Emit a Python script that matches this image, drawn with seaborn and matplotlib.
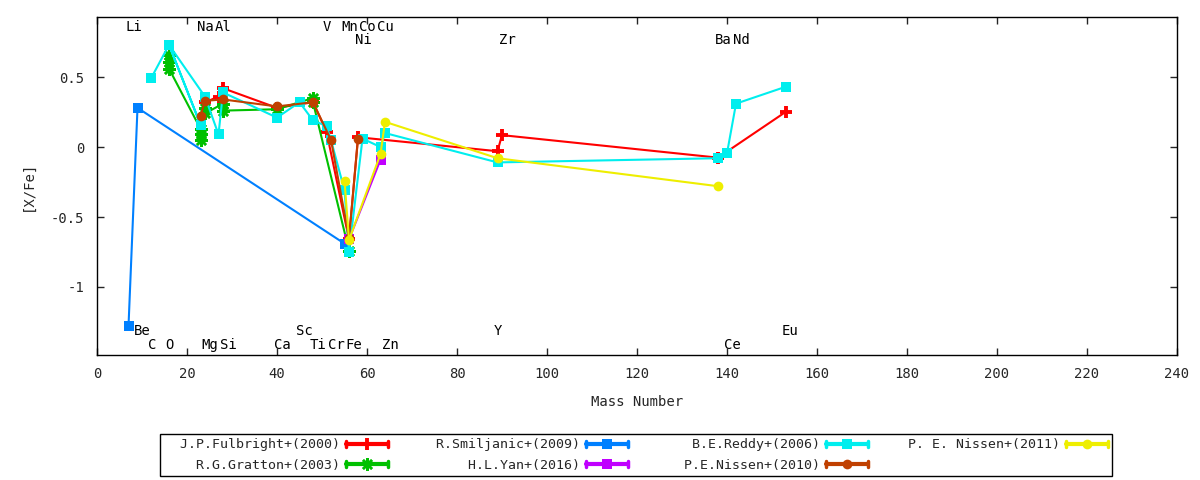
import numpy as np
import pandas as pd
import matplotlib
matplotlib.use("Agg")
import matplotlib.pyplot as plt
import seaborn as sns
from matplotlib.lines import Line2D
from matplotlib.legend_handler import HandlerBase

# ---- data ----
fulbright_mass = [24, 27, 28, 40, 48, 51, 56, 58, 89, 90, 138, 153]
fulbright_xfe = [0.32, 0.36, 0.42, 0.28, 0.32, 0.11, -0.66, 0.07, -0.03, 0.085, -0.076, 0.25]

gratton_mass = [16, 16, 16, 23, 23, 23, 24, 24, 28, 28, 40, 48, 48, 56]
gratton_xfe = [0.66, 0.61, 0.56, 0.13, 0.09, 0.05, 0.28, 0.24, 0.31, 0.26, 0.27, 0.35, 0.32, -0.74]

smiljanic_mass = [7, 9, 55]
smiljanic_xfe = [-1.28, 0.28, -0.69]

yan_mass = [56, 63]
yan_xfe = [-0.66, -0.09]

reddy_mass = [12, 16, 23, 16, 24, 27, 28, 40, 45, 48, 51, 52, 55, 56, 59, 63, 64, 89, 138, 140, 142, 153]
reddy_xfe = [0.49, 0.73, 0.16, 0.73, 0.36, 0.09, 0.39, 0.21, 0.32, 0.19, 0.15, 0.05, -0.31, -0.75,
             0.06, 0.0, 0.10, -0.11, -0.08, -0.045, 0.31, 0.43]

nissen10_mass = [23, 24, 28, 40, 48, 52, 56, 58]
nissen10_xfe = [0.22, 0.33, 0.34, 0.29, 0.32, 0.05, -0.65, 0.06]

nissen11_mass = [55, 56, 63, 64, 89, 138]
nissen11_xfe = [-0.24, -0.665, -0.05, 0.18, -0.08, -0.28]

# element labels: symbol, mass number, row (0/1 above the data, 2/3 below)
elem_names = ["Li", "Na", "Al", "V", "Mn", "Co", "Cu",
              "Ni", "Zr", "Ba", "Nd",
              "Be", "Sc", "Y", "Eu",
              "C", "O", "Mg", "Si", "Ca", "Ti", "Cr", "Fe", "Zn", "Ce"]
elem_mass = [7, 23, 27, 51, 55, 59, 63,
             58, 90, 138, 142,
             9, 45, 89, 153,
             12, 16, 24, 28, 40, 48, 52, 56, 64, 140]
elem_row = [0] * 7 + [1] * 4 + [2] * 4 + [3] * 10

series = [
    ("J.P.Fulbright+(2000)", fulbright_mass, fulbright_xfe, "#ff0000", "+"),
    ("R.G.Gratton+(2003)", gratton_mass, gratton_xfe, "#00c000", (8, 2, 0)),
    ("R.Smiljanic+(2009)", smiljanic_mass, smiljanic_xfe, "#0080ff", "s"),
    ("H.L.Yan+(2016)", yan_mass, yan_xfe, "#c000ff", "s"),
    ("B.E.Reddy+(2006)", reddy_mass, reddy_xfe, "#00eeee", "s"),
    ("P.E.Nissen+(2010)", nissen10_mass, nissen10_xfe, "#c04000", "o"),
    ("P. E. Nissen+(2011)", nissen11_mass, nissen11_xfe, "#eeee00", "o"),
]
row_y = [0.857, 0.765, -1.314, -1.414]
FS = 9.5


def marker_style(m):
    if m == "+":
        return dict(markersize=9, markeredgewidth=2.8)
    if m == (8, 2, 0):
        return dict(markersize=9, markeredgewidth=1.8)
    if m == "s":
        return dict(markersize=7.5, markeredgewidth=0)
    return dict(markersize=7, markeredgewidth=0)


class GnuKey(HandlerBase):
    # line with end caps and a marker in the middle, like a gnuplot errorbar key
    def create_artists(self, legend, orig_handle, xdescent, ydescent, width, height, fontsize, trans):
        y = height / 2 - ydescent
        x0, x1 = -xdescent, width - xdescent
        c = orig_handle.get_color()
        h = height * 0.3
        ln = Line2D([x0, x1], [y, y], color=c, lw=3)
        caps = Line2D([x0, x0, np.nan, x1, x1], [y - h, y + h, np.nan, y - h, y + h], color=c, lw=2.5)
        m = orig_handle.get_marker()
        mk = Line2D([(x0 + x1) / 2], [y], marker=m, color=c, lw=0, **marker_style(m))
        for a in (ln, caps, mk):
            a.set_transform(trans)
        return [ln, caps, mk]


sns.set_style("ticks")
plt.rcParams["font.family"] = ["DejaVu Sans Mono", "DejaVu Sans"]
plt.rcParams["axes.unicode_minus"] = False

fig = plt.figure(figsize=(12, 4.8), dpi=100)
ax = fig.add_axes([97 / 1200, 1 - 355 / 480, 1080 / 1200, 338 / 480])

handles = []
for label, mass, xfe, color, mk in series:
    df = pd.DataFrame({"mass": mass, "xfe": xfe})
    sns.lineplot(data=df, x="mass", y="xfe", ax=ax, sort=False, estimator=None,
                 color=color, linewidth=1.5, marker=mk, markeredgecolor=color,
                 **marker_style(mk))
    # gnuplot right-justifies key text, so pad to a common width (mono font)
    handles.append(Line2D([], [], color=color, marker=mk, label=label.rjust(22)))

for name, mass, row in zip(elem_names, elem_mass, elem_row):
    ax.annotate(name, (mass, row_y[row]), xytext=(-3.4, 0), textcoords="offset pixels",
                ha="left", va="center", fontsize=FS + 0.5, color="black")

ax.set_xlim(0, 240)
ax.set_ylim(-1.486, 0.929)
ax.set_xticks(np.arange(0, 241, 20))
ax.set_yticks([-1, -0.5, 0, 0.5])
ax.set_yticklabels(["-1", "-0.5", "0", "0.5"])
ax.tick_params(direction="in", top=True, right=True, length=5, width=1, labelsize=FS + 0.5, pad=9)
for sp in ax.spines.values():
    sp.set_linewidth(1)
    sp.set_color("black")
ax.set_xlabel("Mass Number", fontsize=FS + 0.5, labelpad=10)
ax.set_ylabel("[X/Fe]", fontsize=FS + 0.5, labelpad=12)

leg = fig.legend(handles=handles, handler_map={Line2D: GnuKey()}, ncol=4,
                 loc="center", bbox_to_anchor=(636 / 1200, 1 - 455 / 480),
                 markerfirst=False, frameon=True, fancybox=False, framealpha=1,
                 edgecolor="black", fontsize=FS, handlelength=3.2,
                 columnspacing=1.15, handletextpad=0.5, borderpad=0.3, labelspacing=0.55,
                 borderaxespad=0)
leg.get_frame().set_linewidth(1)

fig.savefig("out.png", dpi=100)
